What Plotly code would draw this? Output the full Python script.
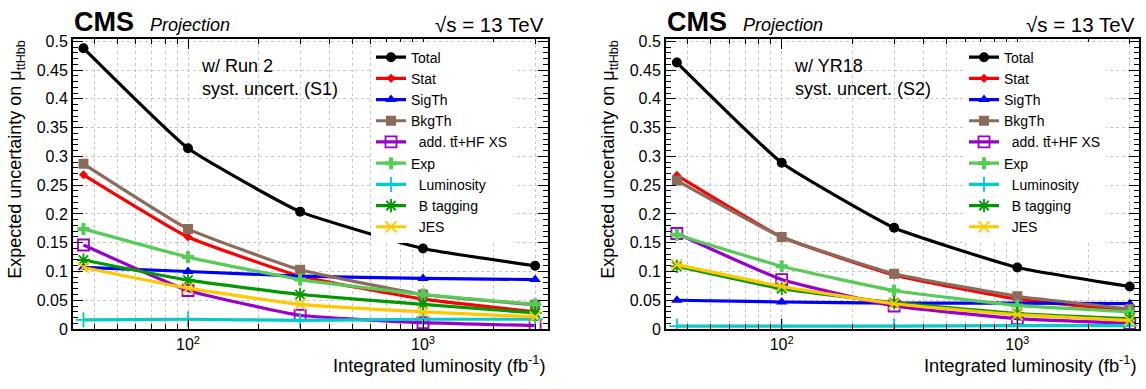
import math
import plotly.graph_objects as go

W, H = 1146, 389

# ---------------- data ----------------
lumi = [35.9, 100, 300, 1000, 3000]

names = ["Total", "Stat", "SigTh", "BkgTh", "\u00a0\u00a0add. tt\u0304+HF XS", "Exp",
         "\u00a0\u00a0Luminosity", "\u00a0\u00a0B tagging", "\u00a0\u00a0JES"]

# S1: w/ Run 2 syst. uncert.
total_s1 = [0.488, 0.314, 0.204, 0.140, 0.110]
stat_s1 = [0.268, 0.160, 0.092, 0.052, 0.030]
sigth_s1 = [0.107, 0.100, 0.092, 0.088, 0.086]
bkgth_s1 = [0.287, 0.174, 0.103, 0.060, 0.042]
ttbb_s1 = [0.146, 0.067, 0.024, 0.011, 0.006]
exp_s1 = [0.174, 0.125, 0.086, 0.060, 0.043]
lumiunc_s1 = [0.016, 0.017, 0.015, 0.017, 0.017]
btag_s1 = [0.120, 0.085, 0.060, 0.043, 0.028]
jes_s1 = [0.107, 0.071, 0.043, 0.030, 0.021]

# S2: w/ YR18 syst. uncert.
total_s2 = [0.463, 0.289, 0.176, 0.107, 0.074]
stat_s2 = [0.267, 0.160, 0.094, 0.052, 0.032]
sigth_s2 = [0.050, 0.047, 0.045, 0.045, 0.044]
bkgth_s2 = [0.258, 0.160, 0.096, 0.057, 0.035]
ttbb_s2 = [0.166, 0.086, 0.040, 0.018, 0.010]
exp_s2 = [0.164, 0.109, 0.067, 0.041, 0.030]
lumiunc_s2 = [0.005, 0.005, 0.005, 0.006, 0.006]
btag_s2 = [0.109, 0.070, 0.046, 0.027, 0.018]
jes_s2 = [0.112, 0.074, 0.044, 0.025, 0.015]

series_s1 = [total_s1, stat_s1, sigth_s1, bkgth_s1, ttbb_s1, exp_s1, lumiunc_s1, btag_s1, jes_s1]
series_s2 = [total_s2, stat_s2, sigth_s2, bkgth_s2, ttbb_s2, exp_s2, lumiunc_s2, btag_s2, jes_s2]

x_tickvals = [100, 1000]
x_ticktext = ["10<sup>2</sup>", "10<sup>3</sup>"]

# ---------------- styles ----------------
colors = ["#000000", "#ff0000", "#0000ff", "#8c6a5c", "#9a00cc", "#55cc55",
          "#00cccc", "#009900", "#ffc800"]
symbols = ["circle", "diamond", "triangle-up", "square", "square-open", "cross",
           "cross-thin", "asterisk", "x-thin"]
msizes = [10, 7, 10, 10, 11, 10, 11, 11, 11]

FONT = "Liberation Sans, Arial, Helvetica, sans-serif"

fig = go.Figure()

panels = [
    dict(series=series_s1, xa="x", ya="y", leg="legend", x0=73, x1=547.7,
         xr=[2 - 115 / 235, 3 + 124.7 / 235], label="w/ Run 2<br>syst. uncert. (S1)", lx=199),
    dict(series=series_s2, xa="x2", ya="y2", leg="legend2", x0=666, x1=1139,
         xr=[2 - 115.7 / 235.6, 3 + 121.7 / 235.6], label="w/ YR18<br>syst. uncert. (S2)", lx=792),
]

for p in panels:
    for i, vals in enumerate(p["series"]):
        thin = symbols[i] in ("cross-thin", "asterisk", "x-thin", "square-open")
        fig.add_trace(go.Scatter(
            x=lumi, y=vals, name=names[i], mode="lines+markers",
            xaxis=p["xa"], yaxis=p["ya"], legend=p["leg"],
            line=dict(color=colors[i], width=3.2, shape="spline", smoothing=0.4),
            marker=dict(symbol=symbols[i], size=msizes[i], color=colors[i],
                        line=dict(color=colors[i], width=1.8 if thin else 0)),
            showlegend=True,
        ))

ytop, ybot = 34, 336
ydom = [1 - ybot / H, 1 - ytop / H]
yrange = [0, 0.5 * (ybot - ytop) / (ybot - 36.7)]

minor_x = [m * 10 ** e for e in (1, 2, 3) for m in range(2, 10) if 30 < m * 10 ** e < 3500]

def xaxis_cfg(p):
    return dict(
        type="log", domain=[p["x0"] / W, p["x1"] / W], range=p["xr"], anchor=p["ya"],
        tickmode="array", tickvals=x_tickvals, ticktext=x_ticktext,
        ticks="inside", ticklen=10, tickwidth=1, tickcolor="black",
        showline=True, linecolor="black", linewidth=2, mirror="ticks",
        showgrid=True, gridcolor="#c8c8c8", griddash="dot", gridwidth=1,
        minor=dict(tickmode="array", tickvals=minor_x, ticks="inside", ticklen=5,
                   tickcolor="black", showgrid=True, gridcolor="#c8c8c8", griddash="dot"),
        tickfont=dict(size=16, family=FONT, color="black"), zeroline=False,
    )

def yaxis_cfg(p):
    return dict(
        domain=ydom, range=yrange, anchor=p["xa"], tick0=0, dtick=0.05,
        ticks="inside", ticklen=10, tickwidth=1, tickcolor="black",
        showline=True, linecolor="black", linewidth=2, mirror="ticks",
        showgrid=True, gridcolor="#c8c8c8", griddash="dot", gridwidth=1,
        minor=dict(dtick=0.01, ticks="inside", ticklen=5, tickcolor="black", showgrid=False),
        tickfont=dict(size=16, family=FONT, color="black"), zeroline=False,
    )

def legend_cfg(xpx):
    return dict(x=xpx / W, y=1 - 37 / H, xanchor="left", yanchor="top",
                bgcolor="white", borderwidth=0, itemwidth=30,
                font=dict(size=14, family=FONT, color="black"),
                tracegroupgap=0, itemclick=False)

annotations = []
for p in panels:
    x0 = p["x0"]
    x1 = p["x1"]
    annotations += [
        dict(text="<b>CMS</b>", x=(x0 - 1) / W, y=1 - 17 / H, xanchor="left", yanchor="middle",
             font=dict(size=27, family=FONT, color="black")),
        dict(text="<i>Projection</i>", x=(x0 + 75) / W, y=1 - 20 / H, xanchor="left", yanchor="middle",
             font=dict(size=18, family=FONT, color="black")),
        dict(text="\u221as = 13 TeV", x=(x1 - 2) / W, y=1 - 19 / H, xanchor="right", yanchor="middle",
             font=dict(size=20.5, family=FONT, color="black")),
        dict(text=p["label"], x=p["lx"] / W, y=1 - 74 / H, xanchor="left", yanchor="middle",
             align="left", font=dict(size=18, family=FONT, color="black")),
        dict(text="Integrated luminosity (fb<sup>-1</sup>)", x=x1 / W, y=1 - 372 / H,
             xanchor="right", yanchor="middle", font=dict(size=18.3, family=FONT, color="black")),
        dict(text="Expected uncertainty on \u03bc<sub>ttHbb</sub>", x=(x0 - 56) / W, y=1 - 160 / H,
             xanchor="center", yanchor="middle", textangle=-90,
             font=dict(size=18, family=FONT, color="black")),
    ]
for a in annotations:
    a.update(xref="paper", yref="paper", showarrow=False)

fig.update_layout(
    width=W, height=H, margin=dict(l=0, r=0, t=0, b=0),
    paper_bgcolor="white", plot_bgcolor="white",
    xaxis=xaxis_cfg(panels[0]), yaxis=yaxis_cfg(panels[0]),
    xaxis2=xaxis_cfg(panels[1]), yaxis2=yaxis_cfg(panels[1]),
    legend=legend_cfg(371), legend2=legend_cfg(964),
    annotations=annotations, font=dict(family=FONT, color="black"),
)

fig.write_html("out.html")
